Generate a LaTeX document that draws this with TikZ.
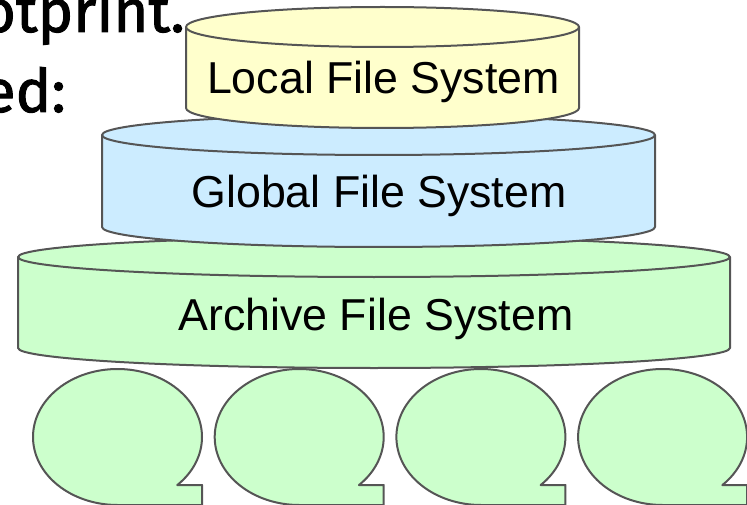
\documentclass[tikz,border=0pt]{standalone}
\usepackage{fontspec}
\setmainfont{Liberation Sans}
\newfontfamily\slidefont[FakeBold=1.6]{Fira Sans}
\usetikzlibrary{calc}
\definecolor{localfill}{RGB}{255,255,204}
\definecolor{globalfill}{RGB}{204,236,255}
\definecolor{archivefill}{RGB}{204,255,204}
\definecolor{drumline}{RGB}{85,85,85}
\tikzset{
  drum/.style={draw=drumline, line width=2pt, line join=round},
  drumlabel/.style={anchor=base, inner sep=0pt,
                    font=\fontsize{44.7}{50}\selectfont},
  slidetext/.style={anchor=base east, inner sep=0pt,
                    font=\slidefont\fontsize{60}{70}\selectfont},
  tape/.style={drum, fill=archivefill},
}
% one storage tier: centre x, half width, top rim y, bottom rim y, fill
\newcommand{\fsdrum}[5]{%
  \filldraw[drum, fill=#5] (#1-#2,#3) -- (#1-#2,#4)
    arc[start angle=180, end angle=360, x radius=#2pt, y radius=20pt]
    -- (#1+#2,#3)
    arc[start angle=0, end angle=180, x radius=#2pt, y radius=20pt] -- cycle;
  \draw[drum] (#1-#2,#3)
    arc[start angle=180, end angle=360, x radius=#2pt, y radius=20pt];
}

\begin{document}
\begin{tikzpicture}[x=1pt, y=-1pt]
  \useasboundingbox (0,0) rectangle (747,505);
  \clip (0,0) rectangle (747,505);

  % leftover slide text
  \node[slidetext] (footline) at (185,32) {otprint.};
  \node[slidetext] (listline) at (66,112) {ed:};

  % tiers, bottom one first
  \fsdrum{374}{356}{257}{348}{archivefill}
  \fsdrum{378.5}{276.5}{135}{227}{globalfill}
  \fsdrum{382.5}{196.5}{27}{108}{localfill}

  \node[drumlabel] (archive) at (376,330) {Archive File System};
  \node[drumlabel] (global)  at (379,208) {Global File System};
  \node[drumlabel] (local)   at (383.5,94) {Local File System};

  % tape reels under the archive
  \foreach \i in {0,...,3} {
    \pgfmathsetmacro\cx{117.5+181.7*\i}
    \filldraw[tape] (\cx+84.5,505) -- (\cx+84.5,485)
      -- ($(\cx,437)+(-45:84.5pt and 68pt)$)
      arc[start angle=-45, end angle=270, x radius=84.5pt, y radius=68pt]
      -- cycle;
  }
\end{tikzpicture}
\end{document}
